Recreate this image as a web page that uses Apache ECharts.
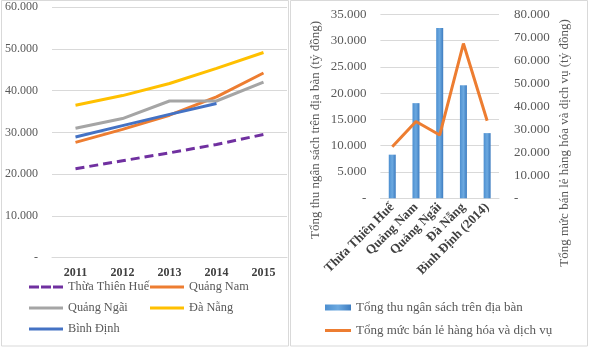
<!DOCTYPE html>
<html><head><meta charset="utf-8">
<script src="https://cdn.jsdelivr.net/npm/echarts@6/dist/echarts.min.js"></script>
<style>html,body{margin:0;padding:0;background:#fff}#c{width:590px;height:348px}</style>
</head><body><div id="c"></div>
<script>
var years = ['2011','2012','2013','2014','2015'];
var hue = [21300, 23200, 25100, 27100, 29500];
var quangNam = [27600, 30700, 34100, 38500, 44200];
var quangNgai = [31000, 33300, 37500, 37500, 42000];
var daNang = [36500, 38800, 41700, 45300, 49100];
var binhDinh = [28900, 31600, 34300, 36900, null];

var provinces = ['Thừa Thiên Huế','Quảng Nam','Quảng Ngãi','Đà Nẵng','Bình Định (2014)'];
var budget = [8300, 18100, 32400, 21500, 12400];
var retail = [22400, 33400, 27500, 67300, 33700];

var SERIF = '"Liberation Serif","Times New Roman",serif';
function fmt(v){ if(v===0) return '-'; var s=String(Math.round(v)); return s.replace(/\B(?=(\d{3})+(?!\d))/g,'.'); }

var LINE34 = 'path://M0,0h34v3h-34z';
var DASH34 = 'path://M0,0h10v3h-10z M12,0h10v3h-10z M24,0h10v3h-10z';
var LINE26 = 'path://M0,0h26v3h-26z';

var chart = echarts.init(document.getElementById('c'), null, {renderer:'canvas'});
var legText = {fontFamily:SERIF, fontSize:13, color:'#595959'};
var legTextL = {fontFamily:SERIF, fontSize:12.3, color:'#595959'};
chart.setOption({
  animation:false,
  backgroundColor:'#fff',
  grid:[
    {left:52, top:7, width:235, height:250.7},
    {left:380.4, top:14.3, width:118.6, height:184}
  ],
  xAxis:[
    {type:'category', gridIndex:0, data:years, boundaryGap:true,
     axisLine:{lineStyle:{color:'#d9d9d9'}}, axisTick:{show:false},
     axisLabel:{fontFamily:SERIF, fontSize:12, fontWeight:'bold', color:'#404040', margin:9}},
    {type:'category', gridIndex:1, data:provinces, boundaryGap:true,
     axisLine:{lineStyle:{color:'#d9d9d9'}}, axisTick:{show:false},
     axisLabel:{fontFamily:SERIF, fontSize:13, fontWeight:'bold', color:'#404040', rotate:45, margin:7, interval:0}}
  ],
  yAxis:[
    {type:'value', gridIndex:0, min:0, max:60000, interval:10000,
     axisLine:{show:false}, axisTick:{show:false},
     splitLine:{lineStyle:{color:'#d9d9d9'}},
     axisLabel:{fontFamily:SERIF, fontSize:12, color:'#595959', margin:14, formatter:fmt}},
    {type:'value', gridIndex:1, position:'left', min:0, max:35000, interval:5000,
     axisLine:{show:false}, axisTick:{show:false},
     splitLine:{lineStyle:{color:'#d9d9d9'}},
     axisLabel:{fontFamily:SERIF, fontSize:13, color:'#595959', margin:14, formatter:fmt}},
    {type:'value', gridIndex:1, position:'right', min:0, max:80000, interval:10000,
     axisLine:{show:false}, axisTick:{show:false}, splitLine:{show:false},
     axisLabel:{fontFamily:SERIF, fontSize:13, color:'#595959', margin:15, formatter:fmt}}
  ],
  legend:[
    {data:[{name:'Thừa Thiên Huế', icon:DASH34},{name:'Quảng Ngãi', icon:LINE34},{name:'Bình Định', icon:LINE34}],
     orient:'vertical', left:29, top:281, padding:0,
     itemWidth:34, itemHeight:3, itemGap:9, textStyle:legTextL},
    {data:[{name:'Quảng Nam', icon:LINE34},{name:'Đà Nẵng', icon:LINE34}],
     orient:'vertical', left:150, top:281, padding:0,
     itemWidth:34, itemHeight:3, itemGap:9, textStyle:legTextL},
    {data:[{name:'Tổng thu ngân sách trên địa bàn', icon:'rect'}], left:325, top:301, padding:0,
     itemWidth:26, itemHeight:6, textStyle:legText},
    {data:[{name:'Tổng mức bán lẻ hàng hóa và dịch vụ', icon:LINE26}], left:325, top:324, padding:0,
     itemWidth:26, itemHeight:3, textStyle:legText}
  ],
  series:[
    {name:'Thừa Thiên Huế', type:'line', xAxisIndex:0, yAxisIndex:0, data:hue, symbol:'none',
     lineStyle:{color:'#7030A0', width:3, type:[9,5]}, itemStyle:{color:'#7030A0'}},
    {name:'Quảng Nam', type:'line', xAxisIndex:0, yAxisIndex:0, data:quangNam, symbol:'none',
     lineStyle:{color:'#ED7D31', width:3}, itemStyle:{color:'#ED7D31'}},
    {name:'Quảng Ngãi', type:'line', xAxisIndex:0, yAxisIndex:0, data:quangNgai, symbol:'none',
     lineStyle:{color:'#A5A5A5', width:3}, itemStyle:{color:'#A5A5A5'}},
    {name:'Đà Nẵng', type:'line', xAxisIndex:0, yAxisIndex:0, data:daNang, symbol:'none',
     lineStyle:{color:'#FFC000', width:3}, itemStyle:{color:'#FFC000'}},
    {name:'Bình Định', type:'line', xAxisIndex:0, yAxisIndex:0, data:binhDinh, symbol:'none',
     lineStyle:{color:'#4472C4', width:3}, itemStyle:{color:'#4472C4'}},
    {name:'Tổng thu ngân sách trên địa bàn', type:'bar', xAxisIndex:1, yAxisIndex:1, data:budget, barWidth:7,
     itemStyle:{color:new echarts.graphic.LinearGradient(0,0,1,0,[{offset:0,color:'#4d8fd0'},{offset:0.5,color:'#6ca9e0'},{offset:1,color:'#3d7cc0'}])}},
    {name:'Tổng mức bán lẻ hàng hóa và dịch vụ', type:'line', xAxisIndex:1, yAxisIndex:2, data:retail, symbol:'none',
     lineStyle:{color:'#ED7D31', width:3}, itemStyle:{color:'#ED7D31'}}
  ],
  graphic:[
    {type:'rect', shape:{x:1.5, y:0.5, width:287, height:345.5}, style:{fill:null, stroke:'#d9d9d9', lineWidth:1}, silent:true},
    {type:'rect', shape:{x:290.5, y:0.5, width:297, height:345.5}, style:{fill:null, stroke:'#d9d9d9', lineWidth:1}, silent:true},
    {type:'text', x:316, y:130, rotation:Math.PI/2,
     style:{text:'Tổng thu ngân sách trên địa bàn (tỷ đồng)', fontFamily:SERIF, fontSize:13, fill:'#595959', textAlign:'center', textVerticalAlign:'middle'}},
    {type:'text', x:565, y:143, rotation:Math.PI/2,
     style:{text:'Tổng mức bán lẻ hàng hóa và dịch vụ (tỷ đồng)', fontFamily:SERIF, fontSize:13, fill:'#595959', textAlign:'center', textVerticalAlign:'middle'}}
  ]
});
</script></body></html>
